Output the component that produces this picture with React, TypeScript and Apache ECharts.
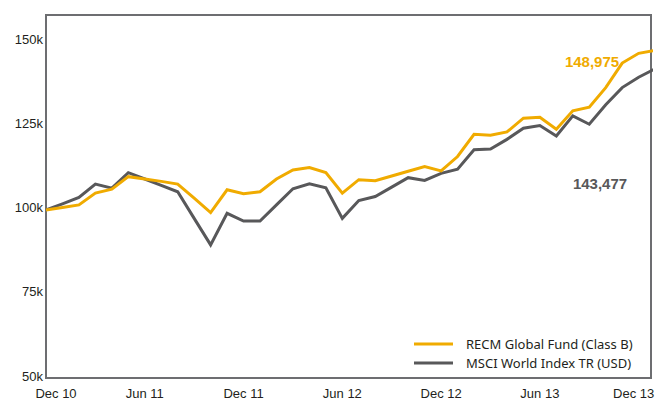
import React, { useEffect, useRef } from 'react';
import * as echarts from 'echarts';

const tickLabels = ['Dec 10', 'Jun 11', 'Dec 11', 'Jun 12', 'Dec 12', 'Jun 13', 'Dec 13'];
const seriesNames = ['RECM Global Fund (Class B)', 'MSCI World Index TR (USD)'];
const fundValues = [
  100.0, 100.7, 101.5, 105.0, 106.2, 109.9, 109.2, 108.5, 107.7, 103.5, 99.2, 106.0, 104.8,
  105.4, 109.2, 111.9, 112.6, 111.1, 105.0, 109.0, 108.7, 110.1, 111.5, 112.9, 111.6, 115.9,
  122.5, 122.2, 123.2, 127.3, 127.6, 124.0, 129.5, 130.6, 136.4, 143.7, 146.6, 147.5,
];
const indexValues = [
  100.0, 101.8, 103.7, 107.7, 106.5, 111.1, 109.2, 107.3, 105.4, 97.5, 89.6, 99.0, 96.7,
  96.7, 101.5, 106.3, 107.8, 106.6, 97.5, 102.8, 104.0, 106.8, 109.6, 108.8, 110.9, 112.1,
  117.9, 118.1, 121.0, 124.3, 125.1, 122.0, 128.0, 125.5, 131.3, 136.4, 139.5, 142.0,
];
const endLabels = ['148,975', '143,477'];

const GOLD = '#f0ab00';
const GREY = '#58585a';
const FRAME = '#6d6e71';
const TEXT = '#231f20';

export default function App() {
  const ref = useRef<HTMLDivElement>(null);
  useEffect(() => {
    const chart = echarts.init(ref.current!, null, { renderer: 'svg' });
    chart.setOption({
      animation: false,
      grid: {
        left: 46,
        right: 7,
        top: 15,
        bottom: 23,
        show: true,
        borderColor: FRAME,
        borderWidth: 2,
        containLabel: false,
      },
      xAxis: {
        type: 'value',
        min: 0,
        max: 36.75,
        interval: 6,
        axisLine: { show: true, lineStyle: { color: FRAME, width: 2 } },
        axisTick: { show: false },
        splitLine: { show: false },
        axisLabel: {
          margin: 9,
          color: TEXT,
          fontFamily: 'Liberation Sans',
          fontSize: 13,
          showMaxLabel: false,
          formatter: (v: number) => {
            if (v % 6 !== 0) return '';
            const i = v / 6;
            const t = tickLabels[i] ?? '';
            if (i === 0) return `{first|${t}}`;
            if (i === tickLabels.length - 1) return `{last|${t}}`;
            return t;
          },
          rich: {
            first: { padding: [0, 0, 0, 20], fontFamily: 'Liberation Sans', fontSize: 13, color: TEXT },
            last: { padding: [0, 10, 0, 0], fontFamily: 'Liberation Sans', fontSize: 13, color: TEXT },
          },
        },
      },
      yAxis: {
        type: 'value',
        min: 50,
        max: 158,
        interval: 25,
        axisLine: { show: true, lineStyle: { color: FRAME, width: 2 } },
        axisTick: { show: false },
        splitLine: { show: false },
        axisLabel: {
          margin: 3,
          color: TEXT,
          fontFamily: 'Liberation Sans',
          fontSize: 13,
          showMaxLabel: false,
          formatter: (v: number) => (v % 25 === 0 ? `{y|${v}k}` : ''),
          rich: {
            y: { padding: [0, 0, 4, 0], fontFamily: 'Liberation Sans', fontSize: 13, color: TEXT },
          },
        },
      },
      legend: {
        orient: 'vertical',
        left: 414,
        top: 336,
        padding: 0,
        icon: 'rect',
        itemWidth: 39,
        itemHeight: 3,
        itemGap: 3,
        data: seriesNames,
        textStyle: {
          fontFamily: 'Noto Sans',
          fontSize: 13,
          color: TEXT,
          lineHeight: 16,
          padding: [0, 0, 0, 8],
        },
      },
      series: [
        {
          name: seriesNames[0],
          type: 'line',
          data: fundValues.map((v, i) => [i, v]),
          showSymbol: false,
          color: GOLD,
          lineStyle: { width: 3, color: GOLD, join: 'miter' },
          clip: true,
          z: 3,
        },
        {
          name: seriesNames[1],
          type: 'line',
          data: indexValues.map((v, i) => [i, v]),
          showSymbol: false,
          color: GREY,
          lineStyle: { width: 3, color: GREY, join: 'miter' },
          clip: true,
          z: 2,
        },
      ],
      graphic: [
        {
          type: 'text',
          x: 592,
          y: 61,
          style: {
            text: endLabels[0],
            fill: GOLD,
            font: 'bold 15px "Liberation Sans"',
            align: 'center',
            verticalAlign: 'middle',
          },
        },
        {
          type: 'text',
          x: 600,
          y: 183,
          style: {
            text: endLabels[1],
            fill: GREY,
            font: 'bold 15px "Liberation Sans"',
            align: 'center',
            verticalAlign: 'middle',
          },
        },
      ],
    });
    return () => chart.dispose();
  }, []);
  return (
    <div
      ref={ref}
      style={{ position: 'absolute', left: 0, top: 0, width: 658, height: 401 }}
    />
  );
}
